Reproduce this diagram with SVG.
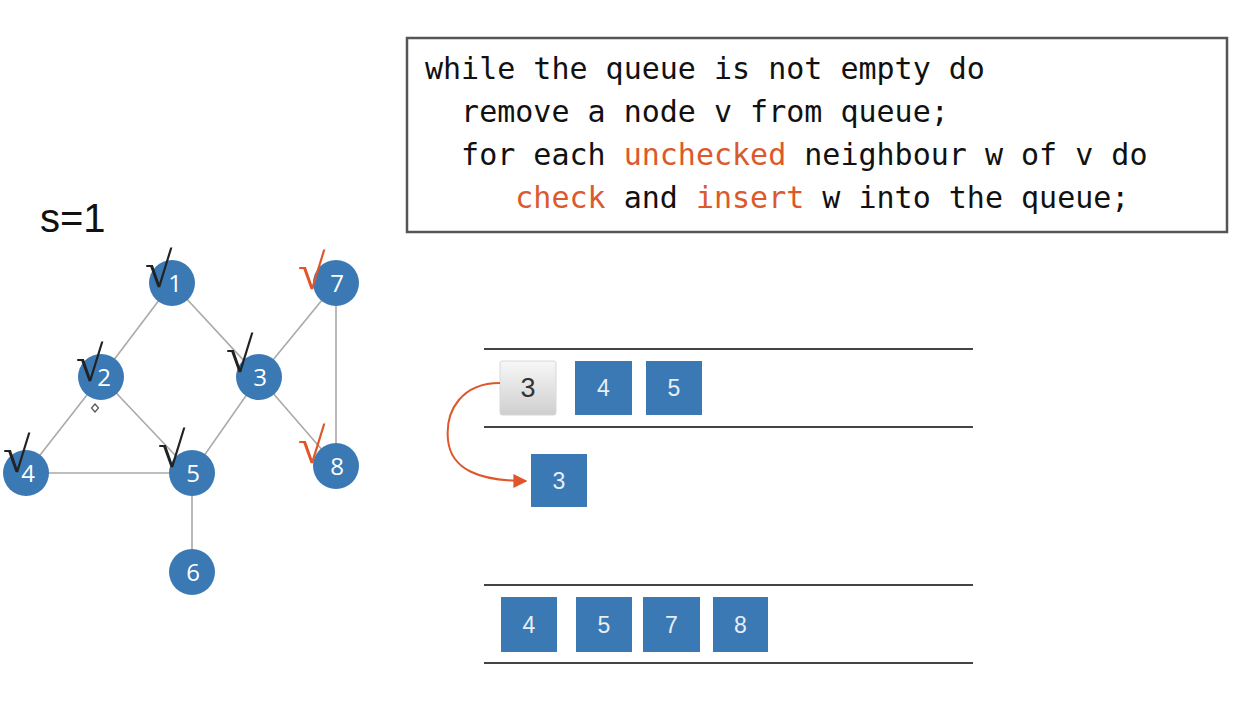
<svg xmlns="http://www.w3.org/2000/svg" width="1242" height="706" viewBox="0 0 1242 706">
  <style>
    .edge { stroke: #a9a9a9; stroke-width: 1.6; fill: none; }
    .node circle { fill: #3a79b4; }
    .nlabel { font-family: "Open Sans", "Liberation Sans", sans-serif; font-size: 24px; fill: #ffffff; text-anchor: middle; }
    .tick { font-family: "Liberation Serif", serif; font-size: 50px; fill: #222222; }
    .tick.new { fill: #e0562a; }
    .code { font-family: "DejaVu Sans Mono", monospace; font-size: 30px; fill: #111111; }
    .kw { fill: #db5a2c; }
    .rail { stroke: #444444; stroke-width: 2; }
    .cell { fill: #3a79b4; }
    .clabel { font-family: "Liberation Sans", sans-serif; font-size: 23px; fill: #e8eef6; text-anchor: middle; }
  </style>
  <defs>
    <linearGradient id="grayCell" x1="0" y1="0" x2="0" y2="1">
      <stop offset="0" stop-color="#f7f7f7"/>
      <stop offset="1" stop-color="#cfcfcf"/>
    </linearGradient>
    <marker id="arrowHead" viewBox="0 0 10 10" refX="9" refY="5" markerWidth="7" markerHeight="7" orient="auto">
      <path d="M0,0 L10,5 L0,10 z" fill="#e0562a"/>
    </marker>
  </defs>

  <rect width="1242" height="706" fill="#ffffff"/>

  <!-- start vertex label -->
  <text x="40" y="232" font-family="Liberation Sans, sans-serif" font-size="40" fill="#111111">s=1</text>

  <!-- graph edges -->
  <g id="edges">
    <line class="edge" x1="172" y1="283" x2="101" y2="377"/>
    <line class="edge" x1="172" y1="283" x2="259" y2="377"/>
    <line class="edge" x1="101" y1="377" x2="26" y2="473"/>
    <line class="edge" x1="101" y1="377" x2="192" y2="473"/>
    <line class="edge" x1="259" y1="377" x2="192" y2="473"/>
    <line class="edge" x1="259" y1="377" x2="336" y2="283"/>
    <line class="edge" x1="259" y1="377" x2="336" y2="466"/>
    <line class="edge" x1="336" y1="283" x2="336" y2="466"/>
    <line class="edge" x1="26" y1="473" x2="192" y2="473"/>
    <line class="edge" x1="192" y1="473" x2="192" y2="572"/>
  </g>

  <!-- graph vertices -->
  <g id="node-1" class="node"><circle cx="172" cy="283" r="23"/><text class="nlabel" x="175" y="292">1</text></g>
  <g id="node-2" class="node"><circle cx="101" cy="377" r="23"/><text class="nlabel" x="104" y="386">2</text></g>
  <g id="node-3" class="node"><circle cx="259" cy="377" r="23"/><text class="nlabel" x="260" y="386">3</text></g>
  <g id="node-4" class="node"><circle cx="26" cy="473" r="23"/><text class="nlabel" x="28" y="482">4</text></g>
  <g id="node-5" class="node"><circle cx="192" cy="473" r="23"/><text class="nlabel" x="193" y="482">5</text></g>
  <g id="node-6" class="node"><circle cx="192" cy="572" r="23"/><text class="nlabel" x="193" y="581">6</text></g>
  <g id="node-7" class="node"><circle cx="336" cy="283" r="23"/><text class="nlabel" x="337" y="292">7</text></g>
  <g id="node-8" class="node"><circle cx="336" cy="466" r="23"/><text class="nlabel" x="337" y="475">8</text></g>

  <!-- visited marks -->
  <g id="ticks">
    <text class="tick" x="145" y="287">√</text>
    <text class="tick" x="76" y="381">√</text>
    <text class="tick" x="226" y="372">√</text>
    <text class="tick" x="3" y="472">√</text>
    <text class="tick" x="158" y="467">√</text>
    <text class="tick new" x="298" y="289">√</text>
    <text class="tick new" x="298" y="463">√</text>
  </g>

  <!-- small pointer mark -->
  <path d="M95,404 L98.5,408 L95,412 L91.5,408 Z" fill="none" stroke="#555555" stroke-width="1.2"/>

  <!-- pseudocode panel -->
  <g id="code">
    <rect x="407" y="38" width="820" height="194" fill="#ffffff" stroke="#555555" stroke-width="2.5"/>
    <text class="code" x="425" y="79" xml:space="preserve">while the queue is not empty do</text>
    <text class="code" x="425" y="122" xml:space="preserve">  remove a node v from queue;</text>
    <text class="code" x="425" y="165" xml:space="preserve">  for each <tspan class="kw">unchecked</tspan> neighbour w of v do</text>
    <text class="code" x="425" y="208" xml:space="preserve">     <tspan class="kw">check</tspan> and <tspan class="kw">insert</tspan> w into the queue;</text>
  </g>

  <!-- upper queue -->
  <g id="queue-top">
    <line class="rail" x1="484" y1="349" x2="973" y2="349"/>
    <line class="rail" x1="484" y1="427" x2="973" y2="427"/>
    <g id="cell-3-old">
      <rect x="500" y="361" width="56" height="54" rx="2" fill="url(#grayCell)" stroke="#d8d8d8" stroke-width="1"/>
      <text x="528" y="397" font-family="Liberation Sans, sans-serif" font-size="27" fill="#333333" text-anchor="middle">3</text>
    </g>
    <g id="cell-4-top"><rect class="cell" x="575" y="361" width="57" height="54"/><text class="clabel" x="603.5" y="396">4</text></g>
    <g id="cell-5-top"><rect class="cell" x="646" y="361" width="56" height="54"/><text class="clabel" x="674" y="396">5</text></g>
  </g>

  <!-- dequeued vertex -->
  <g id="cell-3-out"><rect class="cell" x="531" y="454" width="56" height="53"/><text class="clabel" x="559" y="489">3</text></g>

  <!-- dequeue move -->
  <g id="connectors">
    <path d="M500,383 C462,383 445,410 448,440 C451,470 480,481 526,481" fill="none" stroke="#e0562a" stroke-width="2" marker-end="url(#arrowHead)"/>
  </g>

  <!-- lower queue -->
  <g id="queue-bottom">
    <line class="rail" x1="484" y1="585" x2="973" y2="585"/>
    <line class="rail" x1="484" y1="663" x2="973" y2="663"/>
    <g id="cell-4"><rect class="cell" x="501" y="597" width="56" height="55"/><text class="clabel" x="529" y="633">4</text></g>
    <g id="cell-5"><rect class="cell" x="576" y="597" width="56" height="55"/><text class="clabel" x="604" y="633">5</text></g>
    <g id="cell-7"><rect class="cell" x="643" y="597" width="57" height="55"/><text class="clabel" x="671.5" y="633">7</text></g>
    <g id="cell-8"><rect class="cell" x="713" y="597" width="55" height="55"/><text class="clabel" x="740.5" y="633">8</text></g>
  </g>
</svg>
